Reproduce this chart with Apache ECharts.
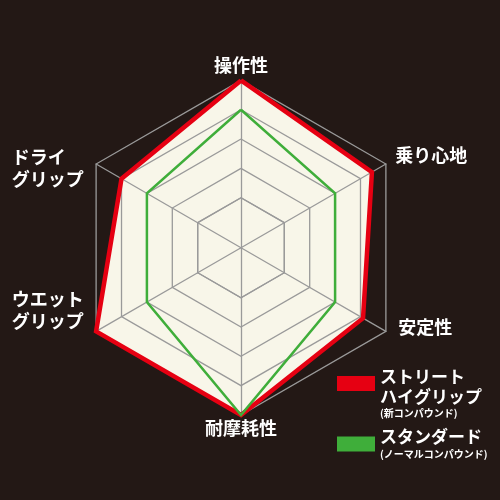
<!DOCTYPE html>
<html>
<head>
<meta charset="utf-8">
<script src="https://cdn.jsdelivr.net/npm/echarts@6/dist/echarts.min.js"></script>
<style>
html,body{margin:0;padding:0;background:#231815;}
#c{width:500px;height:500px;}
</style>
</head>
<body>
<div id="c"></div>
<script>
// Indicators, counter-clockwise from the top
const indicatorNames = ['操作性', 'ドライグリップ', 'ウエットグリップ', '耐摩耗性', '安定性', '乗り心地'];
const seriesNames = ['ストリートハイグリップ', 'スタンダード'];
const highGripValues = [5, 4.0, 5, 5, 4.1, 4.45];
const standardValues = [4, 3, 3, 5, 3, 3];
const scaleMin = 1;
const scaleMax = 5;

const FONT = '"Noto Sans CJK JP", "Noto Sans", sans-serif';
const RED = '#e60012';
const GREEN = '#3fae3a';
const CREAM = '#f8f6e9';
const GRID = '#9a9a9a';

function txt(extra) {
  return Object.assign({fontSize: 18, fontWeight: 'bold', color: '#fff', fontFamily: FONT}, extra || {});
}
const nameRich = {
  top: txt({padding: [0, 0, 2, 0]}),
  bot: txt(),
  side: txt({lineHeight: 22, padding: [0, 9, 0, 0]}),
  ur: txt({padding: [0, 0, 0, 6]}),
  lr: txt({padding: [0, 0, 0, 9]}),
  s13: {fontSize: 1, lineHeight: 13},
  s47: {fontSize: 1, lineHeight: 47},
  s12: {fontSize: 1, lineHeight: 12}
};
function nameFormatter(name) {
  switch (name) {
    case '操作性': return '{top|' + name + '}';
    case '耐摩耗性': return '{bot|' + name + '}';
    case 'ドライグリップ': return '{s13| }\n{side|ドライ\u3000}\n{side|グリップ}';
    case 'ウエットグリップ': return '{side|ウエット}\n{side|グリップ}\n{s47| }';
    case '乗り心地': return '{ur|' + name + '}\n{s13| }';
    case '安定性': return '{lr|' + name + '}\n{s12| }';
  }
  return name;
}

const legendRich = {
  sp: {fontSize: 1, lineHeight: 20},
  a: {fontSize: 17, fontWeight: 'bold', color: '#fff', fontFamily: FONT, lineHeight: 20},
  b: {fontSize: 10, fontWeight: 'bold', color: '#fff', fontFamily: FONT, lineHeight: 14}
};

const chart = echarts.init(document.getElementById('c'), null, {renderer: 'canvas'});
chart.setOption({
  backgroundColor: '#231815',
  animation: false,
  legend: [
    {
      data: [seriesNames[0]], left: 332, top: 351, orient: 'vertical',
      itemWidth: 38, itemHeight: 15, icon: 'rect', itemGap: 0,
      formatter: () => '{sp| }\n{a|ストリート}\n{a|ハイグリップ}\n{b|(新コンパウンド)}',
      textStyle: {rich: legendRich}
    },
    {
      data: [seriesNames[1]], left: 332, top: 423.5, orient: 'vertical',
      itemWidth: 38, itemHeight: 15, icon: 'rect', itemGap: 0,
      formatter: () => '{a|スタンダード}\n{b|(ノーマルコンパウンド)}',
      textStyle: {rich: legendRich}
    }
  ],
  radar: [
    {
      center: [241, 247.7],
      radius: [50, 167.3],
      startAngle: 90,
      splitNumber: 4,
      shape: 'polygon',
      z: 1,
      indicator: indicatorNames.map(n => ({name: n, min: scaleMin, max: scaleMax})),
      nameGap: 4,
      axisName: {formatter: nameFormatter, rich: nameRich, color: '#fff'},
      axisLine: {lineStyle: {color: GRID, width: 1.3}},
      splitLine: {lineStyle: {color: GRID, width: 1.3}},
      splitArea: {show: false}
    },
    {
      center: [241, 247.7],
      radius: 50,
      startAngle: 90,
      splitNumber: 1,
      shape: 'polygon',
      z: 1,
      indicator: indicatorNames.map(n => ({name: n, min: 0, max: 1})),
      axisName: {show: false},
      axisLine: {lineStyle: {color: GRID, width: 1.3}},
      splitLine: {lineStyle: {color: GRID, width: 1.3}},
      splitArea: {show: false}
    }
  ],
  series: [
    {
      type: 'radar',
      radarIndex: 0,
      z: 0,
      symbol: 'none',
      silent: true,
      data: [{
        name: 'fill',
        value: highGripValues,
        lineStyle: {width: 0, opacity: 0},
        areaStyle: {color: CREAM, opacity: 1},
        itemStyle: {color: CREAM}
      }]
    },
    {
      type: 'radar',
      radarIndex: 0,
      z: 3,
      symbol: 'none',
      data: [
        {name: seriesNames[0], value: highGripValues,
         itemStyle: {color: RED}, lineStyle: {color: RED, width: 4.5, join: 'miter'}},
        {name: seriesNames[1], value: standardValues,
         itemStyle: {color: GREEN}, lineStyle: {color: GREEN, width: 2.5, join: 'miter'}}
      ]
    }
  ]
});
</script>
</body>
</html>
